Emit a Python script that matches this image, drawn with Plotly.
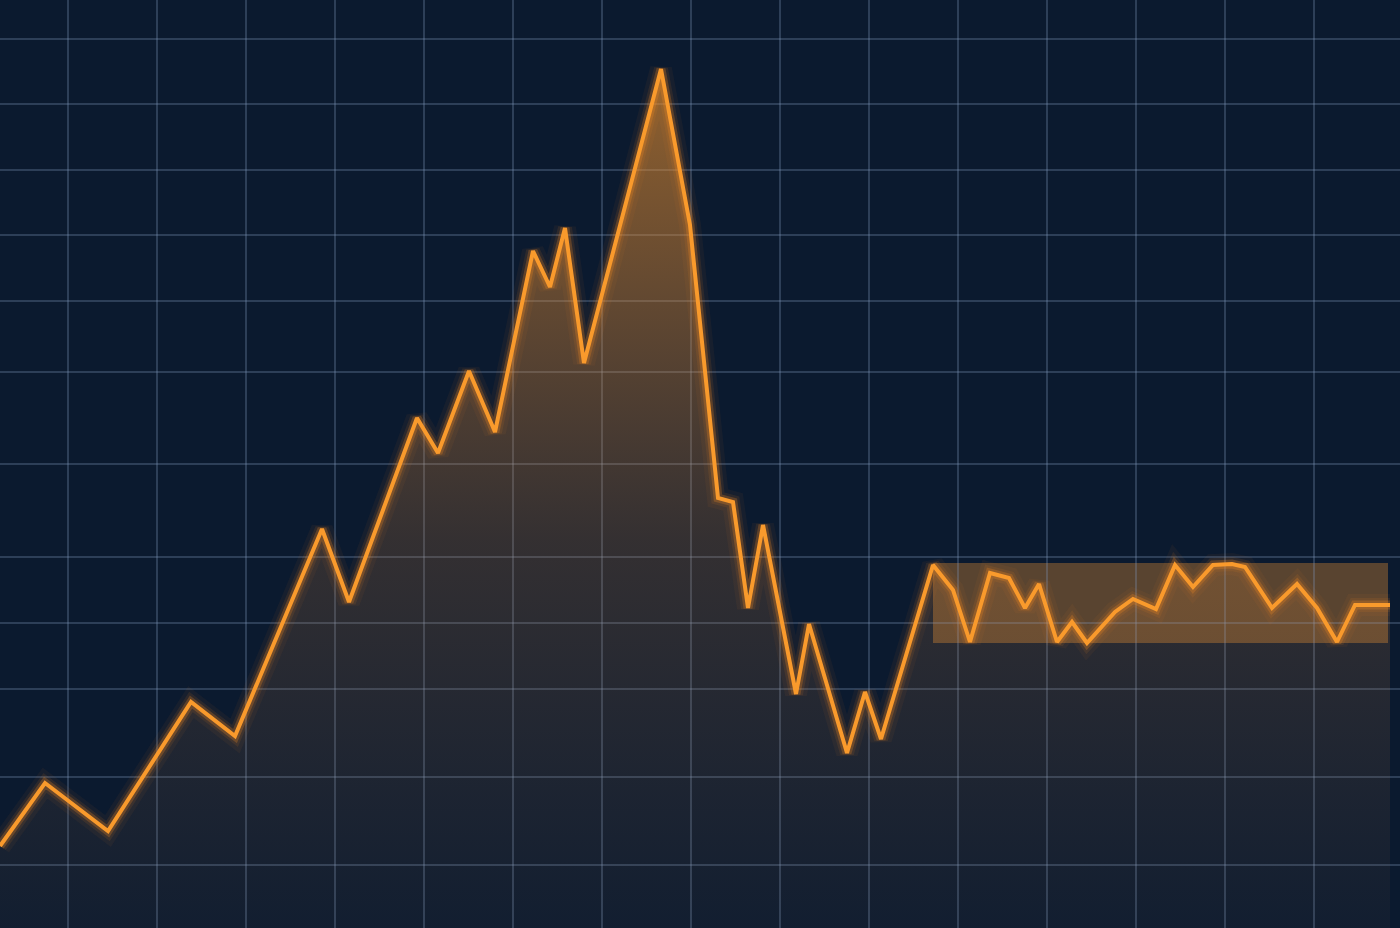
import plotly.graph_objects as go

# ---- data (x = time units, y = value units) ----
t = [0, 45, 108, 191, 235, 322, 349, 417, 438, 469, 495, 533, 550, 565, 584,
     661, 690, 718, 733, 748, 763, 796, 809, 847, 865, 881, 933, 953, 970,
     990, 1009, 1025, 1039, 1057, 1072, 1087, 1115, 1133, 1156, 1175, 1193,
     1213, 1232, 1245, 1272, 1297, 1317, 1337, 1355, 1390]
value = [82, 145, 97, 226, 192, 399, 326, 510, 475, 557, 496, 677, 641, 700, 565,
         859, 703, 430, 426, 320, 403, 234, 304, 175, 236, 189, 363, 338, 286,
         355, 350, 320, 344, 286, 306, 285, 316, 329, 319, 363, 341,
         363, 364, 361, 320, 344, 320, 286, 323, 323]

# highlighted consolidation band
band_start, band_end = 933, 1388
band_low, band_high = 285, 365

# grid positions
x_grid = [67.5 + 89 * k for k in range(15)]
y_grid = [889, 824, 758, 693, 627, 556, 464, 371, 305, 239, 151, 63]

BG = "#0b1a2f"
ORANGE = "#f99a2c"
GRID = "rgba(125,150,185,0.30)"

fig = go.Figure()

# area fill with vertical gradient
fig.add_trace(go.Scatter(
    x=t, y=value, mode="lines", line=dict(width=0, color="rgba(0,0,0,0)"),
    fill="tozeroy",
    fillgradient=dict(
        type="vertical",
        colorscale=[[0.0, "rgba(190,130,80,0.04)"],
                    [0.45, "rgba(225,140,60,0.19)"],
                    [1.0, "rgba(245,150,45,0.58)"]],
    ),
    hoverinfo="skip", showlegend=False,
))

# glow layers
for w, a in [(22, 0.05), (14, 0.10), (9, 0.25)]:
    fig.add_trace(go.Scatter(
        x=t, y=value, mode="lines",
        line=dict(width=w, color=f"rgba(247,140,30,{a})"),
        hoverinfo="skip", showlegend=False,
    ))

# main line
fig.add_trace(go.Scatter(
    x=t, y=value, mode="lines",
    line=dict(width=4, color=ORANGE),
    showlegend=False,
))

# consolidation band
fig.add_shape(
    type="rect", xref="x", yref="y",
    x0=band_start, x1=band_end, y0=band_low, y1=band_high,
    fillcolor="rgba(240,150,50,0.34)", line=dict(width=0), layer="below",
)

fig.update_layout(
    width=1400, height=928,
    margin=dict(l=0, r=0, t=0, b=0),
    paper_bgcolor=BG, plot_bgcolor=BG,
    showlegend=False,
    xaxis=dict(range=[0, 1400], tickvals=x_grid, showticklabels=False,
               showgrid=True, gridcolor=GRID, gridwidth=2,
               zeroline=False, showline=False, ticks="", fixedrange=True),
    yaxis=dict(range=[0, 928], tickvals=y_grid, showticklabels=False,
               showgrid=True, gridcolor=GRID, gridwidth=2,
               zeroline=False, showline=False, ticks="", fixedrange=True),
)

fig.write_html("out.html", config={"displayModeBar": False})

# remove default page margin so the figure fills the window exactly
with open("out.html", "r", encoding="utf-8") as f:
    html = f.read()
html = html.replace("<head>", "<head><style>html,body{margin:0;padding:0;background:#0b1a2f;overflow:hidden}</style>", 1)
with open("out.html", "w", encoding="utf-8") as f:
    f.write(html)
